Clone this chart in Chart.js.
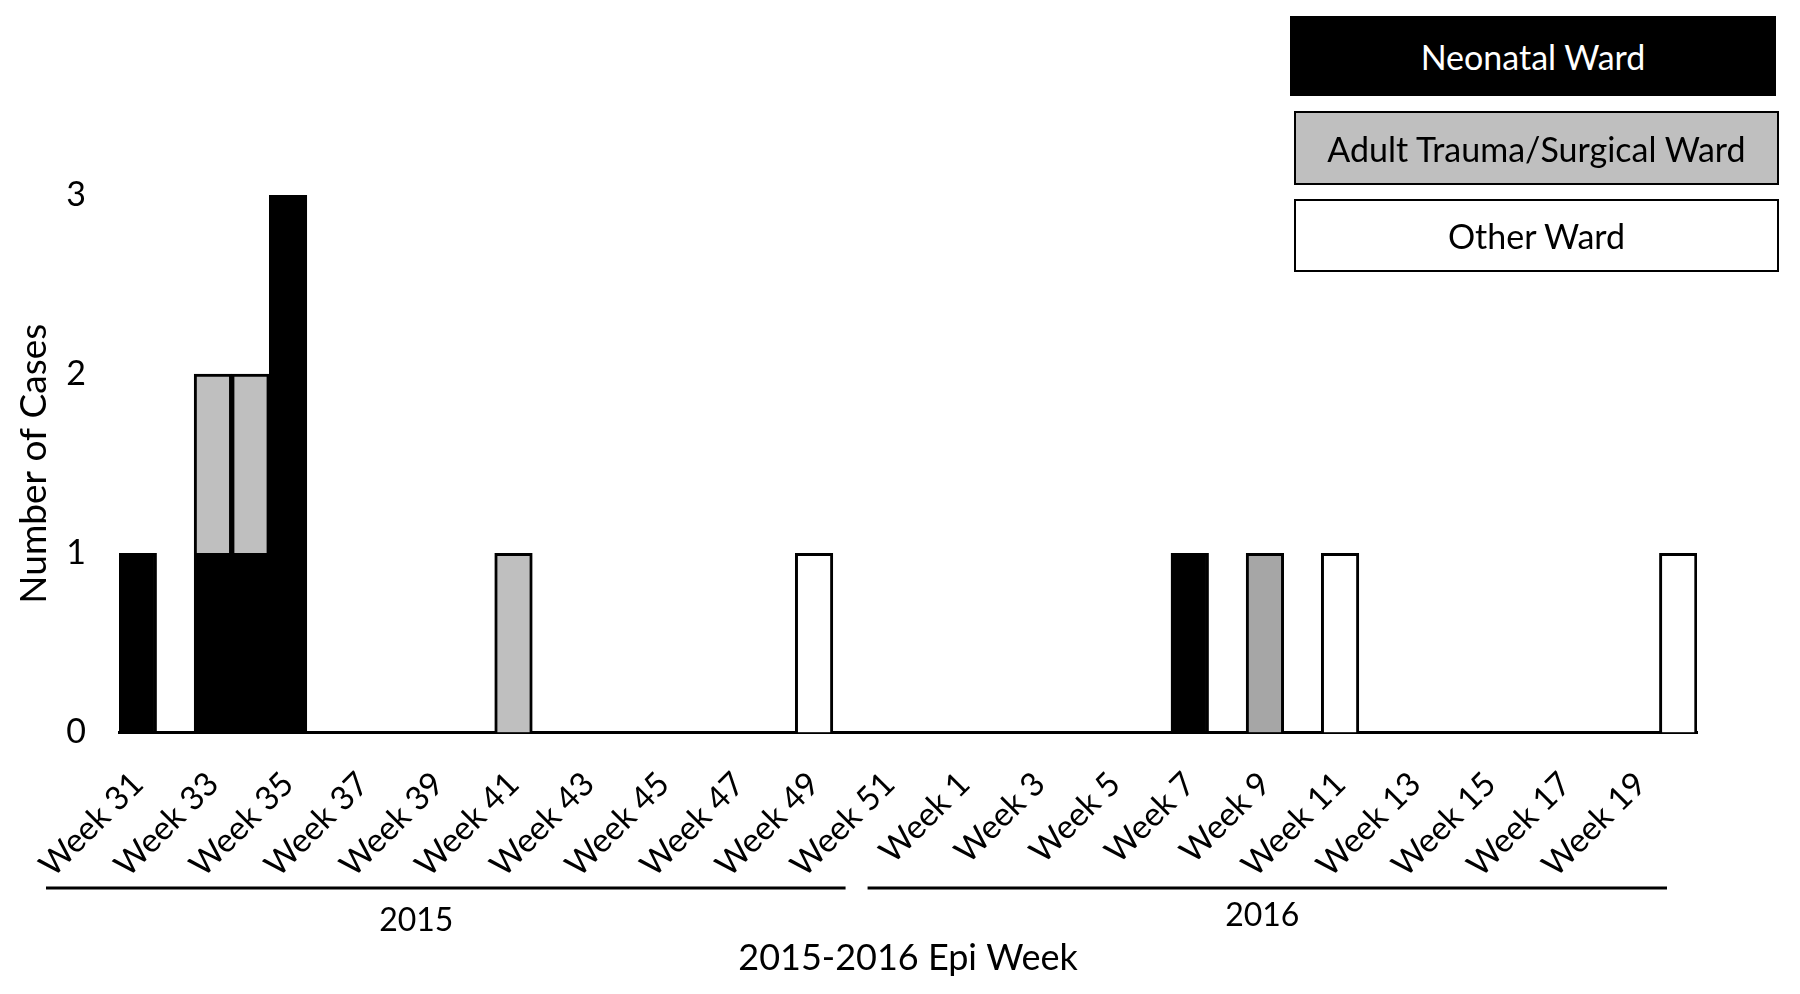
<!DOCTYPE html>
<html>
<head>
<meta charset="utf-8">
<script src="https://cdn.jsdelivr.net/npm/chart.js@4"></script>
<style>
  body { margin: 0; background: #fff; }
  #wrap { position: relative; width: 1800px; height: 994px; }
  #legend { position: absolute; left: 0; top: 0; }
  .key { position: absolute; display: flex; align-items: center; justify-content: center;
         font-family: Lato, sans-serif; font-size: 34px; box-sizing: border-box; }
</style>
</head>
<body>
<div id="wrap">
  <canvas id="chart" width="1800" height="994"></canvas>
  <div id="legend"></div>
</div>
<script>
// epi weeks: 2015 wk 31-52, then 2016 wk 1-20
const weekLabels = [
  'Week 31', 'Week 32', 'Week 33', 'Week 34', 'Week 35', 'Week 36', 'Week 37', 'Week 38',
  'Week 39', 'Week 40', 'Week 41', 'Week 42', 'Week 43', 'Week 44', 'Week 45', 'Week 46',
  'Week 47', 'Week 48', 'Week 49', 'Week 50', 'Week 51', 'Week 52',
  'Week 1', 'Week 2', 'Week 3', 'Week 4', 'Week 5', 'Week 6', 'Week 7', 'Week 8',
  'Week 9', 'Week 10', 'Week 11', 'Week 12', 'Week 13', 'Week 14', 'Week 15', 'Week 16',
  'Week 17', 'Week 18', 'Week 19', 'Week 20'
];
const yearLabels = ['2015', '2016'];
const weeksPerYear = [22, 20];

const neonatal = [
  1, 0, 1, 1, 3, 0, 0, 0, 0, 0, 0, 0, 0, 0, 0, 0, 0, 0, 0, 0, 0, 0,
  0, 0, 0, 0, 0, 0, 1, 0, 0, 0, 0, 0, 0, 0, 0, 0, 0, 0, 0, 0
];
const adult = [
  0, 0, 1, 1, 0, 0, 0, 0, 0, 0, 1, 0, 0, 0, 0, 0, 0, 0, 0, 0, 0, 0,
  0, 0, 0, 0, 0, 0, 0, 0, 1, 0, 0, 0, 0, 0, 0, 0, 0, 0, 0, 0
];
const other = [
  0, 0, 0, 0, 0, 0, 0, 0, 0, 0, 0, 0, 0, 0, 0, 0, 0, 0, 1, 0, 0, 0,
  0, 0, 0, 0, 0, 0, 0, 0, 0, 0, 1, 0, 0, 0, 0, 0, 0, 0, 0, 1
];
const yTicks = [0, 1, 2, 3];

const FONT = 'Lato, sans-serif';

const datasets = [
  { label: 'Neonatal Ward', data: neonatal, backgroundColor: '#000000', textColor: '#fff' },
  { label: 'Adult Trauma/Surgical Ward', data: adult,
    backgroundColor: ctx => weekLabels[ctx.dataIndex] === 'Week 9' && ctx.dataIndex > 21 ? '#a6a6a6' : '#bfbfbf',
    textColor: '#000' },
  { label: 'Other Ward', data: other, backgroundColor: '#ffffff', textColor: '#000' }
].map(d => ({
  ...d,
  borderColor: '#000',
  borderWidth: 3,
  barPercentage: 1,
  categoryPercentage: 1
}));

// year brackets under the week labels
const yearBrackets = {
  id: 'yearBrackets',
  afterDraw(chart) {
    const ctx = chart.ctx;
    const x = chart.scales.x;
    const half = (x.getPixelForValue(1) - x.getPixelForValue(0)) / 2;
    let start = 0;
    ctx.save();
    ctx.strokeStyle = '#000';
    ctx.lineWidth = 3;
    ctx.fillStyle = '#000';
    ctx.font = '32px ' + FONT;
    ctx.textAlign = 'center';
    ctx.textBaseline = 'middle';
    yearLabels.forEach((yr, i) => {
      const end = start + weeksPerYear[i] - 1;
      const left = x.getPixelForValue(start) - half;
      const right = x.getPixelForValue(end) + half;
      const l = i === 0 ? left - 73 : left - 78;
      const r = i === 0 ? right - 100 : right - 30;
      ctx.beginPath();
      ctx.moveTo(l, 888);
      ctx.lineTo(r, 888);
      ctx.stroke();
      const mid = (left + right) / 2 + (i === 0 ? -116 : -59);
      ctx.fillText(yr, mid, i === 0 ? 921 : 916);
      start = end + 1;
    });
    ctx.restore();
  }
};

new Chart(document.getElementById('chart'), {
  type: 'bar',
  data: { labels: weekLabels, datasets: datasets },
  options: {
    responsive: false,
    animation: false,
    layout: { padding: { top: 195, right: 103, bottom: 14, left: 12 } },
    plugins: { legend: { display: false }, tooltip: { enabled: false } },
    scales: {
      x: {
        stacked: true,
        grid: { display: false },
        border: { display: true, color: '#000', width: 3 },
        ticks: {
          color: '#000',
          font: { family: FONT, size: 33 },
          autoSkip: false,
          maxRotation: 45,
          minRotation: 45,
          padding: 24,
          callback: (v, i) => i % 2 === 0 ? weekLabels[i] : ''
        },
        title: {
          display: true,
          text: '2015-2016 Epi Week',
          color: '#000',
          font: { family: FONT, size: 36 },
          padding: { top: 28, bottom: 0 }
        }
      },
      y: {
        stacked: true,
        min: 0,
        max: 3,
        grid: { display: false },
        border: { display: false },
        afterBuildTicks: axis => { axis.ticks = yTicks.map(v => ({ value: v })); },
        afterFit: axis => { axis.width = 107; },
        ticks: {
          color: '#000',
          font: { family: FONT, size: 34 },
          padding: 25
        },
        title: {
          display: true,
          text: 'Number of Cases',
          color: '#000',
          font: { family: FONT, size: 37 },
          padding: { top: 0, bottom: 0 }
        }
      }
    }
  },
  plugins: [yearBrackets]
});

// legend boxes top right
const boxes = [
  { left: 1290, top: 16, w: 486, h: 80 },
  { left: 1294, top: 111, w: 485, h: 74 },
  { left: 1294, top: 199, w: 485, h: 73 }
];
const legend = document.getElementById('legend');
datasets.forEach((d, i) => {
  const el = document.createElement('div');
  el.className = 'key';
  const b = boxes[i];
  const bg = typeof d.backgroundColor === 'function' ? '#bfbfbf' : d.backgroundColor;
  el.style.cssText = `left:${b.left}px;top:${b.top}px;width:${b.w}px;height:${b.h}px;` +
    `background:${bg};color:${d.textColor};border:2px solid #000;`;
  el.textContent = d.label;
  legend.appendChild(el);
});
</script>
</body>
</html>
